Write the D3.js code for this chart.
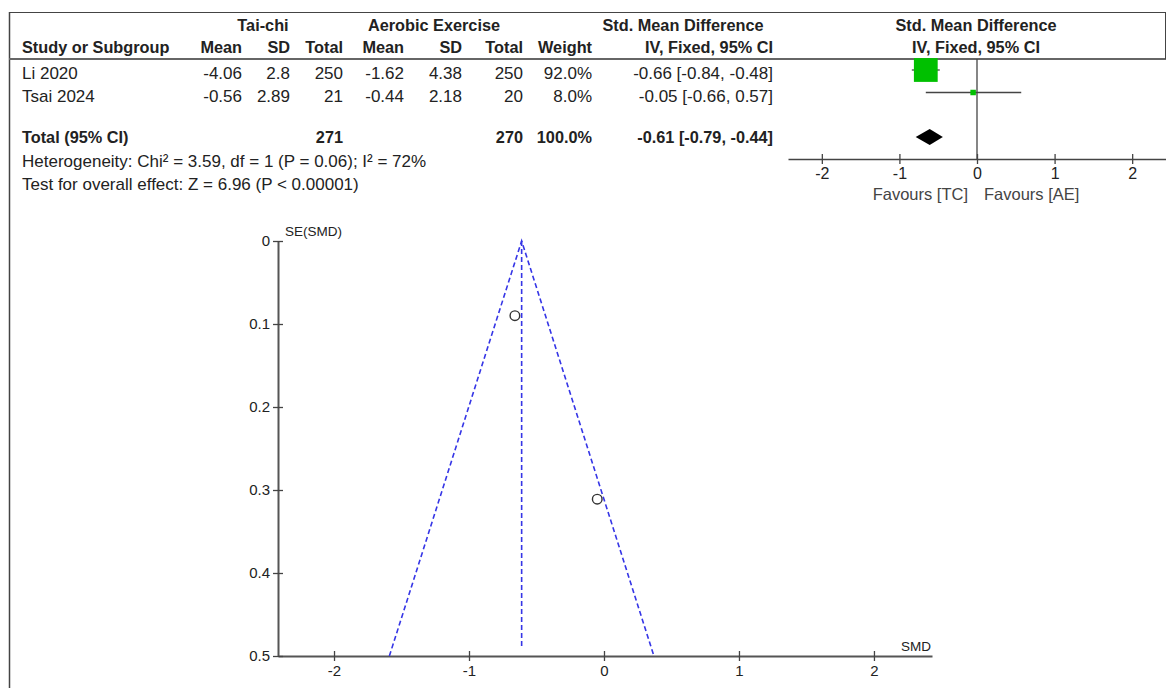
<!DOCTYPE html>
<html>
<head>
<meta charset="utf-8">
<script src="https://cdn.jsdelivr.net/npm/d3@7"></script>
<style>
  body { margin: 0; background: white; }
  svg { font-family: "Liberation Sans", Arial, sans-serif; }
  .cell { font-size: 17px; fill: #222; }
  .bold { font-weight: bold; font-size: 16.3px; }
  .tick text { font-family: "Liberation Sans", Arial, sans-serif; }
</style>
</head>
<body>
<div class="board"></div>
<script>
var width = 1166,
    height = 688

// study data
var studies = ["Li 2020", "Tsai 2024"]
var tcMean = [-4.06, -0.56]
var tcSD = [2.8, 2.89]
var tcTotal = [250, 21]
var aeMean = [-1.62, -0.44]
var aeSD = [4.38, 2.18]
var aeTotal = [250, 20]
var weights = [92.0, 8.0]
var smd = [-0.66, -0.05]
var ciLow = [-0.84, -0.66]
var ciHigh = [-0.48, 0.57]
var seSMD = [0.09, 0.311]

var pooled = -0.61, pooledLow = -0.79, pooledHigh = -0.44
var totalTC = 271, totalAE = 270

var forestTicks = [-2, -1, 0, 1, 2]
var funnelXTicks = [-2, -1, 0, 1, 2]
var funnelYTicks = [0, 0.1, 0.2, 0.3, 0.4, 0.5]

LINE_COLOR = "#444"
TEXT_COLOR = "#222"
FUNNEL_BLUE = "#3535e6"

var svg = d3.select(".board")
    .append("svg")
    .attr("width", width)
    .attr("height", height)

// frame lines
svg.append("line").attr("x1", 9.5).attr("x2", 9.5).attr("y1", 12).attr("y2", height)
    .attr("stroke", LINE_COLOR).attr("stroke-width", 1.5)
svg.append("line").attr("x1", 9).attr("x2", width).attr("y1", 12.5).attr("y2", 12.5)
    .attr("stroke", LINE_COLOR).attr("stroke-width", 1.2)
svg.append("line").attr("x1", 9).attr("x2", width).attr("y1", 59).attr("y2", 59)
    .attr("stroke", "#666").attr("stroke-width", 2)
svg.append("line").attr("x1", width - 0.5).attr("x2", width - 0.5).attr("y1", 12).attr("y2", 59)
    .attr("stroke", LINE_COLOR).attr("stroke-width", 1)

function addText(x, y, txt, anchor, bold) {
    svg.append("text")
        .classed("cell", true)
        .classed("bold", !!bold)
        .attr("x", x)
        .attr("y", y)
        .attr("text-anchor", anchor || "start")
        .text(txt)
}

// header
addText(263, 31, "Tai-chi", "middle", true)
addText(434, 31, "Aerobic Exercise", "middle", true)
addText(683, 31, "Std. Mean Difference", "middle", true)
addText(976, 31, "Std. Mean Difference", "middle", true)

var COLS = [242, 290, 343, 404, 462, 523, 592, 773]
addText(22, 53, "Study or Subgroup", "start", true)
var headers = ["Mean", "SD", "Total", "Mean", "SD", "Total", "Weight", "IV, Fixed, 95% CI"]
headers.forEach((h, i) => addText(COLS[i], 53, h, "end", true))
addText(976, 53, "IV, Fixed, 95% CI", "middle", true)

// study rows
var ROW_Y = [79, 102]
var fmt2 = v => v.toFixed(2)
studies.forEach((s, i) => {
    var y = ROW_Y[i]
    addText(22, y, s)
    var vals = [tcMean[i], tcSD[i], tcTotal[i], aeMean[i], aeSD[i], aeTotal[i],
        weights[i].toFixed(1) + "%",
        fmt2(smd[i]) + " [" + fmt2(ciLow[i]) + ", " + fmt2(ciHigh[i]) + "]"]
    vals.forEach((v, j) => addText(COLS[j], y, v, "end"))
})

// total row
var TOTAL_Y = 143
addText(22, TOTAL_Y, "Total (95% CI)", "start", true)
addText(COLS[2], TOTAL_Y, totalTC, "end", true)
addText(COLS[5], TOTAL_Y, totalAE, "end", true)
addText(COLS[6], TOTAL_Y, "100.0%", "end", true)
addText(COLS[7], TOTAL_Y, fmt2(pooled) + " [" + fmt2(pooledLow) + ", " + fmt2(pooledHigh) + "]", "end", true)
addText(22, 167, "Heterogeneity: Chi\u00B2 = 3.59, df = 1 (P = 0.06); I\u00B2 = 72%")
addText(22, 190, "Test for overall effect: Z = 6.96 (P < 0.00001)")

// forest plot
var forestX = d3.scaleLinear()
    .domain([-2.436, 2.436])
    .range([788, 1166])
var FOREST_AXIS_Y = 159
var FOREST_ROW_Y = [70, 92.5]
var boxSize = d3.scalePow().exponent(0.6).domain([0, 100]).range([0, 25])

var fAxis = svg.append("g")
    .attr("transform", `translate(0, ${FOREST_AXIS_Y})`)
    .call(d3.axisBottom(forestX).tickValues(forestTicks).tickFormat(d => String(d))
        .tickSizeInner(5).tickSizeOuter(0).tickPadding(4))
fAxis.select(".domain").attr("stroke", LINE_COLOR).attr("stroke-width", 1.3)
fAxis.selectAll(".tick line").attr("y1", -5).attr("stroke", LINE_COLOR).attr("stroke-width", 1.3)
fAxis.selectAll(".tick text").attr("font-size", 16).attr("fill", TEXT_COLOR)

svg.append("line")
    .attr("x1", forestX(0)).attr("x2", forestX(0))
    .attr("y1", 59).attr("y2", FOREST_AXIS_Y)
    .attr("stroke", LINE_COLOR).attr("stroke-width", 1.3)

svg.selectAll(".ciLine")
    .data(studies)
    .enter()
    .append("line")
    .classed("ciLine", true)
    .attr("x1", (d, i) => forestX(ciLow[i]))
    .attr("x2", (d, i) => forestX(ciHigh[i]))
    .attr("y1", (d, i) => FOREST_ROW_Y[i])
    .attr("y2", (d, i) => FOREST_ROW_Y[i])
    .attr("stroke", LINE_COLOR)
    .attr("stroke-width", 1.3)

svg.selectAll(".weightBox")
    .data(studies)
    .enter()
    .append("rect")
    .classed("weightBox", true)
    .attr("fill", "#00c000")
    .attr("x", (d, i) => forestX(smd[i]) - boxSize(weights[i]) / 2)
    .attr("y", (d, i) => FOREST_ROW_Y[i] - boxSize(weights[i]) / 2)
    .attr("width", (d, i) => boxSize(weights[i]))
    .attr("height", (d, i) => boxSize(weights[i]))

var DIAMOND_Y = 137
svg.append("path")
    .attr("fill", "black")
    .attr("d", d3.line()([
        [forestX(pooledLow), DIAMOND_Y],
        [forestX(pooled), DIAMOND_Y - 8],
        [forestX(pooledHigh), DIAMOND_Y],
        [forestX(pooled), DIAMOND_Y + 8]
    ]) + "Z")

svg.append("text").attr("font-size", 16.5)
    .attr("x", forestX(0) - 9).attr("y", 200).attr("text-anchor", "end")
    .attr("fill", "#444").text("Favours [TC]")
svg.append("text").attr("font-size", 16.5)
    .attr("x", forestX(0) + 7).attr("y", 200).attr("text-anchor", "start")
    .attr("fill", "#444").text("Favours [AE]")

// funnel plot
var funnelX = d3.scaleLinear()
    .domain([-2.415, 2.43])
    .range([278, 932])
var funnelY = d3.scaleLinear()
    .domain([0, 0.5])
    .range([241, 656])

var xAxisF = svg.append("g")
    .attr("transform", `translate(0, ${funnelY(0.5)})`)
    .call(d3.axisBottom(funnelX).tickValues(funnelXTicks).tickFormat(d => String(d))
        .tickSizeInner(5).tickSizeOuter(0).tickPadding(4))
xAxisF.select(".domain").attr("stroke", "#555").attr("stroke-width", 2)
xAxisF.selectAll(".tick line").attr("y1", -5).attr("stroke", LINE_COLOR).attr("stroke-width", 1.3)
xAxisF.selectAll(".tick text").attr("font-size", 15).attr("fill", TEXT_COLOR)

var yAxisF = svg.append("g")
    .attr("transform", `translate(${funnelX(-2.415)}, 0)`)
    .call(d3.axisLeft(funnelY).tickValues(funnelYTicks).tickFormat(d => String(d))
        .tickSizeInner(5).tickSizeOuter(0).tickPadding(3))
yAxisF.select(".domain").attr("stroke", "#555").attr("stroke-width", 2)
yAxisF.selectAll(".tick line").attr("x1", 5).attr("stroke", LINE_COLOR).attr("stroke-width", 1.3)
yAxisF.selectAll(".tick text").attr("font-size", 15).attr("fill", TEXT_COLOR)

svg.append("text").attr("x", funnelX(-2.415) + 7).attr("y", 236)
    .attr("font-size", 13.5).attr("fill", TEXT_COLOR).text("SE(SMD)")
svg.append("text").attr("x", funnelX(2.43) - 1).attr("y", 651).attr("text-anchor", "end")
    .attr("font-size", 13.5).attr("fill", TEXT_COLOR).text("SMD")

// pseudo 95% confidence limits
var funnelLine = d3.line().x(d => funnelX(d[0])).y(d => funnelY(d[1]))
svg.append("path")
    .attr("fill", "none")
    .attr("stroke", FUNNEL_BLUE)
    .attr("stroke-width", 1.6)
    .attr("stroke-dasharray", "5,3")
    .attr("d", funnelLine([[pooled - 1.96 * 0.5, 0.5], [pooled, 0], [pooled + 1.96 * 0.5, 0.5]]))
svg.append("path")
    .attr("fill", "none")
    .attr("stroke", FUNNEL_BLUE)
    .attr("stroke-width", 1.6)
    .attr("stroke-dasharray", "5,3")
    .attr("d", funnelLine([[pooled, 0], [pooled, 0.49]]))

svg.selectAll(".studyPoint")
    .data(studies)
    .enter()
    .append("circle")
    .classed("studyPoint", true)
    .attr("cx", (d, i) => funnelX(smd[i]))
    .attr("cy", (d, i) => funnelY(seSMD[i]))
    .attr("r", 4.8)
    .attr("fill", "none")
    .attr("stroke", "#333")
    .attr("stroke-width", 1.4)
</script>
</body>
</html>
